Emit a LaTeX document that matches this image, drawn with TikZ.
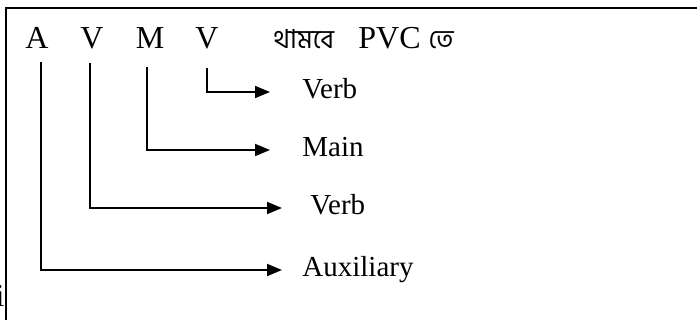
\documentclass[tikz,border=0pt]{standalone}
\usepackage{fontspec}
\setmainfont{Liberation Serif}
\newfontfamily\bnfont[Script=Bengali,Scale=0.82]{Hind Siliguri}
\usetikzlibrary{arrows.meta}
\usetikzlibrary{positioning}

\begin{document}
\begin{tikzpicture}[
  x=0.5pt, y=-0.5pt,
  letter/.style={inner sep=0pt, anchor=base, font=\fontsize{16}{19}\selectfont},
  gloss/.style={inner sep=0pt, anchor=west, text height=0.66em, text depth=0pt,
    font=\fontsize{14.5}{17}\selectfont},
  link/.style={line width=0.9pt, -{Triangle[length=7.5pt,width=6pt]}}
]

\useasboundingbox (0,0) rectangle (697,320);
\draw[line width=1.2pt] (697,8) -- (6,8) -- (6,320);

\node[letter] (a) at (37,49) {A};
\node[letter] (v) at (92,49) {V};
\node[letter] (m) at (150,49) {M};
\node[letter] (vv) at (207,49) {V};
\node[letter, anchor=base west] (thamb) at (273,49) {\bnfont থামবে};
\node[letter, anchor=base west] (pvc) at (358,49) {PVC \bnfont তে};

\node[gloss] (verbA) at (302,92) {Verb};
\node[gloss] (main) at (302,150) {Main};
\node[gloss] (verbB) at (310,208) {Verb};
\node[gloss] (aux) at (302,270) {Auxiliary};

\node[letter, anchor=base east] (stray) at (5,307) {i};

\draw[link, shorten >=16pt] ([yshift=-9pt]vv.south) |- (verbA);
\draw[link, shorten >=16pt] ([xshift=-1.5pt,yshift=-9pt]m.south) |- (main);
\draw[link, shorten >=14pt] ([xshift=-1pt,yshift=-6.5pt]v.south) |- (verbB);
\draw[link, shorten >=10pt] ([xshift=2pt,yshift=-6.5pt]a.south) |- (aux);

\end{tikzpicture}
\end{document}
